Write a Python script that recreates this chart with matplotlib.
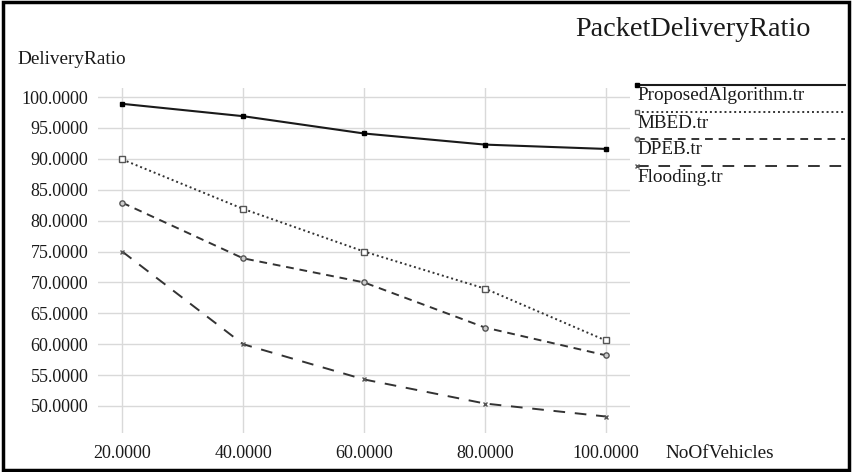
import matplotlib.pyplot as plt
from matplotlib.lines import Line2D
from matplotlib.patches import Rectangle

# data
vehicles = [20, 40, 60, 80, 100]
proposed = [98.9, 96.9, 94.1, 92.3, 91.6]
mbed = [89.9, 81.9, 75.0, 69.0, 60.6]
dpeb = [82.9, 73.9, 70.0, 62.7, 58.2]
flooding = [75.0, 60.0, 54.3, 50.4, 48.3]
names = ["ProposedAlgorithm.tr", "MBED.tr", "DPEB.tr", "Flooding.tr"]
y_ticks = [50, 55, 60, 65, 70, 75, 80, 85, 90, 95, 100]

plt.rcParams['font.family'] = ['Liberation Serif', 'DejaVu Serif']

fig = plt.figure(figsize=(8.52, 4.72), dpi=100)
ax = fig.add_axes([98 / 852, 1 - 433 / 472, 532 / 852, 345 / 472])

styles = [
    dict(ls='-', lw=1.5, color='#1a1a1a', marker='s', ms=3.5, mfc='black', mec='black'),
    dict(ls=(0, (1, 1.5)), lw=1.4, color='#333333', marker='s', ms=3.8, mfc='white', mec='#555555'),
    dict(ls=(0, (4, 3)), lw=1.4, color='#333333', marker='o', ms=3.8, mfc='#cccccc', mec='#555555'),
    dict(ls=(0, (6, 5)), lw=1.4, color='#333333', marker='x', ms=3.5, mec='#555555'),
]
series = [proposed, mbed, dpeb, flooding]
for vals, st in zip(series, styles):
    ax.plot(vehicles, vals, **st, zorder=3)

ax.set_xlim(16, 104)
ax.set_ylim(45.63, 101.46)
ax.set_xticks(vehicles)
ax.set_yticks(y_ticks)
ax.set_xticklabels([f"{v:.4f}" for v in vehicles])
ax.set_yticklabels([f"{v:.4f}" for v in y_ticks])
ax.tick_params(length=0, labelsize=13, colors='#1a1a1a')
ax.tick_params(axis='y', pad=7)
ax.tick_params(axis='x', pad=9)
ax.grid(True, color='#d9d9d9', lw=1)
for s in ax.spines.values():
    s.set_visible(False)

fig.text(693 / 852, 1 - 30 / 472, "PacketDeliveryRatio", fontsize=20.3,
         ha='center', va='center', color='#1a1a1a')
fig.text(17 / 852, 1 - 59 / 472, "DeliveryRatio", fontsize=13.9,
         ha='left', va='center', color='#1a1a1a')
fig.text(665 / 852, 1 - 453 / 472, "NoOfVehicles", fontsize=13.9,
         ha='left', va='center', color='#1a1a1a')

# legend drawn by hand on the right
for i, (name, st) in enumerate(zip(names, styles)):
    yl = 1 - (85 + 27 * i) / 472
    ln = Line2D([637 / 852, 845 / 852], [yl, yl], transform=fig.transFigure,
                ls=st['ls'], lw=st['lw'], color=st['color'])
    fig.add_artist(ln)
    mk = Line2D([637 / 852], [yl], transform=fig.transFigure, ls='none',
                marker=st['marker'], ms=st['ms'] - 0.5, mfc=st.get('mfc', 'none'),
                mec=st['mec'])
    fig.add_artist(mk)
    fig.text(637 / 852, yl - 11 / 472, name, fontsize=13.8, ha='left',
             va='center', color='#1a1a1a')

fig.add_artist(Rectangle((0.003, 0.004), 0.994, 0.992, transform=fig.transFigure,
                         fill=False, ec='black', lw=2.5))

fig.savefig('out.png', dpi=100)
